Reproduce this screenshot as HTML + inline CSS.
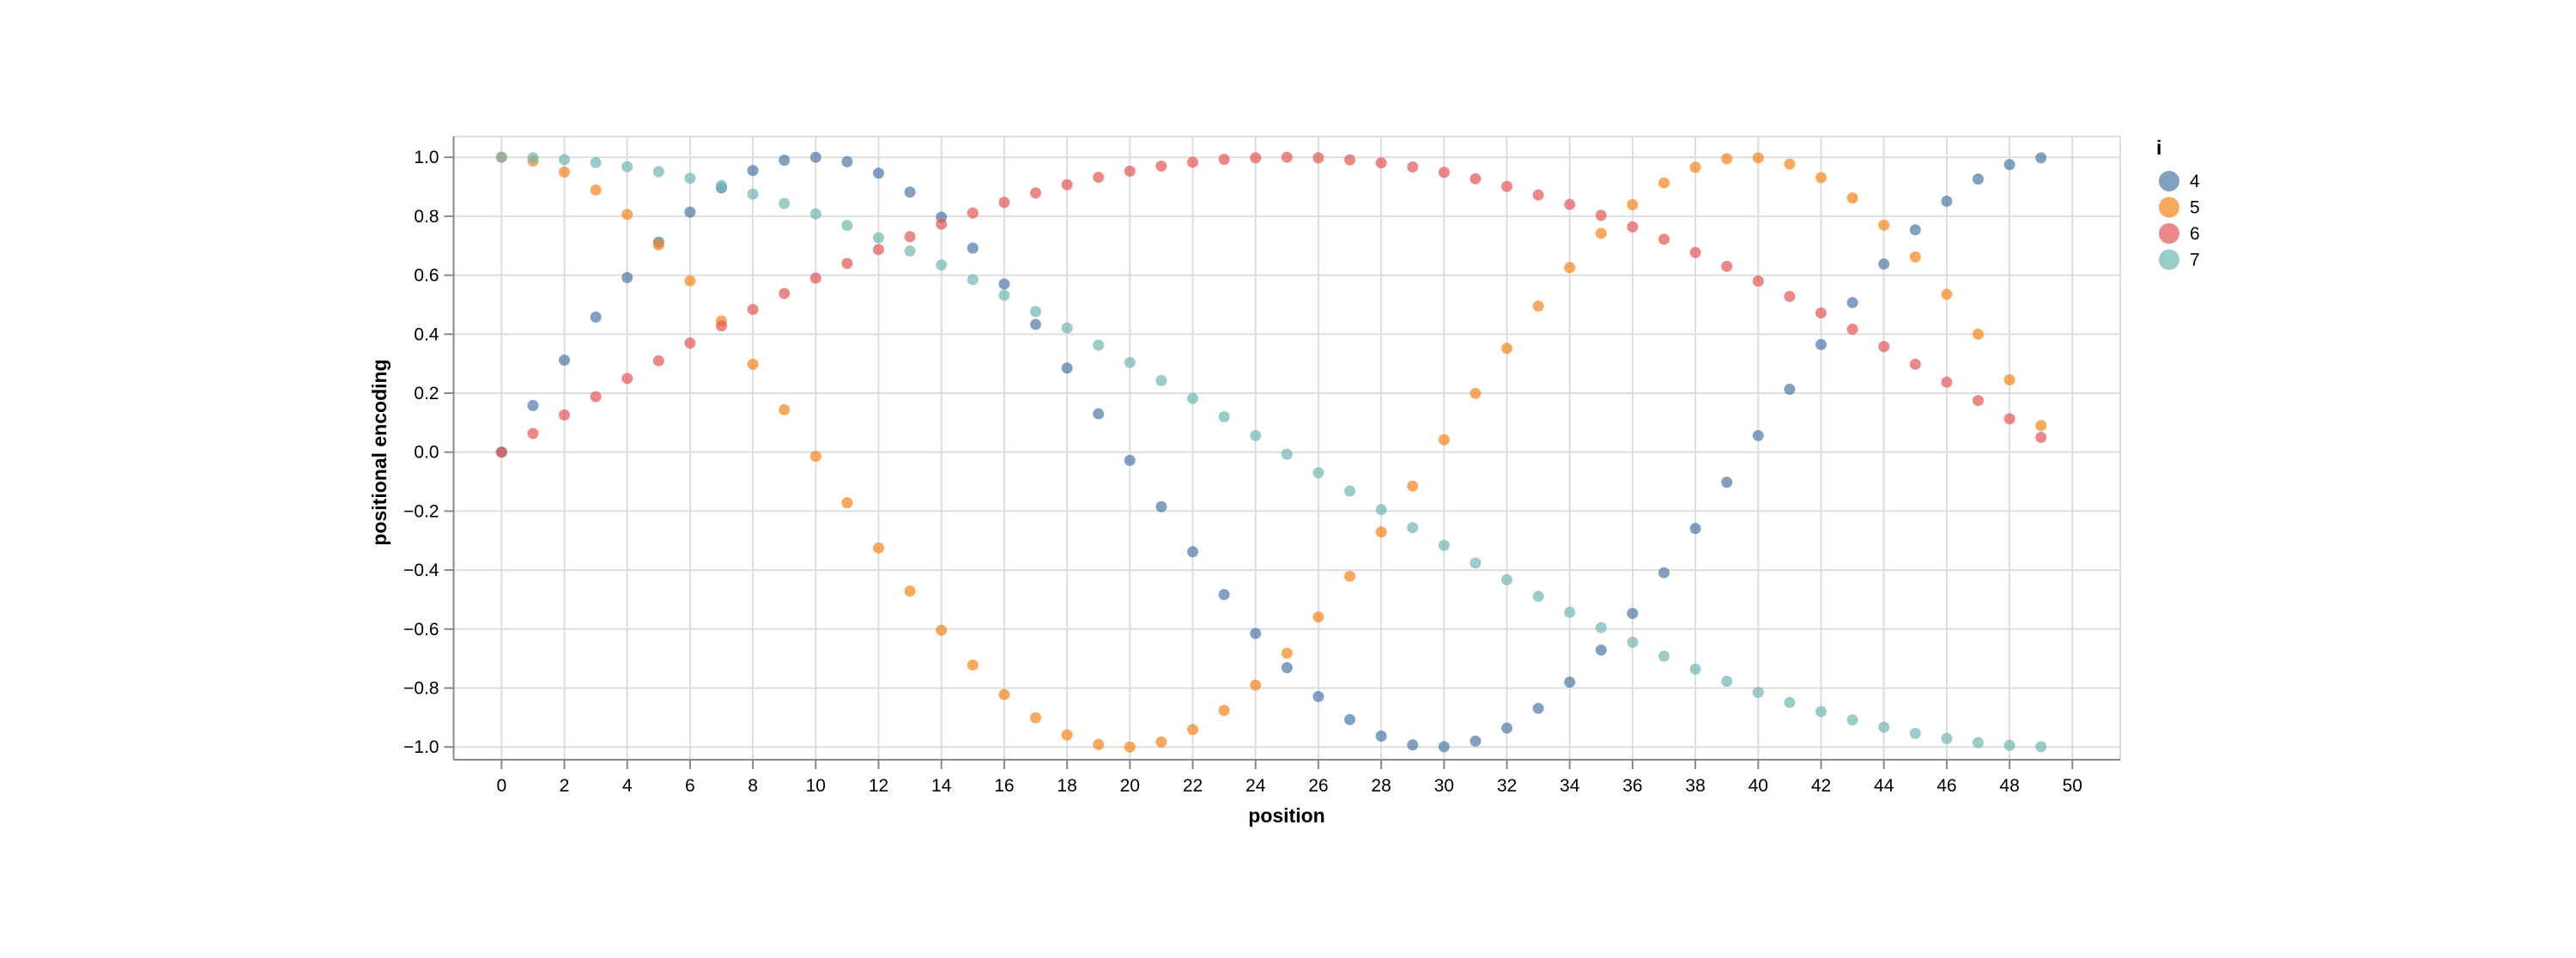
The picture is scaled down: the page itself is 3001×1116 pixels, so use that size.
<!DOCTYPE html>
<html><head><meta charset="utf-8"><style>
html,body{margin:0;padding:0;background:#fff;}
svg{display:block;font-family:"Liberation Sans",Arial,sans-serif;}
</style></head><body>
<svg id="chart" width="3001" height="1116" xmlns="http://www.w3.org/2000/svg">
<rect width="3001" height="1116" fill="#fff"/>
<g id="grid"></g>
<g id="axes"></g>
<g id="marks"></g>
<text transform="translate(450,527) rotate(-90)" text-anchor="middle" font-size="23" font-weight="bold" fill="#000">positional encoding</text>
<text x="1499" y="958" text-anchor="middle" font-size="23" font-weight="bold" fill="#000">position</text>
<g id="legend"><text x="2512" y="180" font-size="23" font-weight="bold">i</text></g>
</svg>
<script>
const positions = Array.from({length:50},(_, k)=>k);
const seriesNames = ["4","5","6","7"];
const series4 = [0,0.158,0.312,0.458,0.592,0.712,0.814,0.896,0.955,0.990,1.000,0.985,0.946,0.882,0.797,0.692,0.570,0.433,0.285,0.130,-0.028,-0.185,-0.338,-0.483,-0.615,-0.731,-0.829,-0.907,-0.963,-0.993,-0.999,-0.980,-0.936,-0.869,-0.780,-0.671,-0.547,-0.409,-0.259,-0.102,0.056,0.213,0.365,0.507,0.638,0.754,0.851,0.926,0.975,0.998];
const series5 = [1,0.987,0.950,0.889,0.806,0.703,0.581,0.445,0.298,0.144,-0.014,-0.172,-0.325,-0.471,-0.604,-0.722,-0.822,-0.901,-0.959,-0.991,-1.000,-0.983,-0.941,-0.876,-0.790,-0.682,-0.559,-0.421,-0.271,-0.115,0.042,0.199,0.352,0.495,0.626,0.742,0.839,0.913,0.966,0.995,0.998,0.977,0.931,0.862,0.770,0.662,0.535,0.400,0.245,0.090];
const series6 = [0,0.063,0.126,0.188,0.250,0.310,0.370,0.428,0.484,0.538,0.590,0.640,0.687,0.731,0.773,0.811,0.847,0.879,0.907,0.932,0.953,0.970,0.983,0.993,0.998,1.000,0.998,0.991,0.981,0.967,0.949,0.927,0.901,0.872,0.840,0.803,0.764,0.722,0.677,0.630,0.580,0.528,0.472,0.417,0.358,0.298,0.237,0.175,0.113,0.050];
const series7 = [1,0.998,0.992,0.982,0.968,0.951,0.929,0.904,0.875,0.843,0.808,0.769,0.727,0.682,0.635,0.585,0.532,0.477,0.421,0.363,0.304,0.243,0.182,0.120,0.056,-0.007,-0.070,-0.132,-0.195,-0.256,-0.316,-0.376,-0.433,-0.489,-0.543,-0.595,-0.645,-0.692,-0.736,-0.777,-0.815,-0.849,-0.880,-0.908,-0.933,-0.954,-0.971,-0.985,-0.994,-0.999];
const xTicks = [0,2,4,6,8,10,12,14,16,18,20,22,24,26,28,30,32,34,36,38,40,42,44,46,48,50];
const yTicks = [-1.0,-0.8,-0.6,-0.4,-0.2,0.0,0.2,0.4,0.6,0.8,1.0];

const NS="http://www.w3.org/2000/svg";
const L=528.5,R=2470,T=159,B=885;
const xs=v=>584.3+(v)*(2414.3-584.3)/50;
const ys=v=>526.7-v*343.5;
const colors=["#4c78a8","#f58518","#e45756","#72b7b2"];
function mk(tag,attrs,parent){const e=document.createElementNS(NS,tag);for(const k in attrs)e.setAttribute(k,attrs[k]);parent.appendChild(e);return e;}
const grid=document.getElementById('grid'),axes=document.getElementById('axes'),marks=document.getElementById('marks'),legend=document.getElementById('legend');
xTicks.forEach(t=>{
  const g=mk('line',{x1:xs(t),x2:xs(t),y1:T,y2:B,stroke:'#ddd','stroke-width':2},grid);
  
  
  const tk=mk('line',{x1:xs(t),x2:xs(t),y1:B,y2:B+11,stroke:'#888','stroke-width':2},axes);
  
  
  const tl=mk('text',{x:xs(t),y:922,'text-anchor':'middle','font-size':21,fill:'#000'},axes);
  tl.textContent=t;
  
  
});
yTicks.forEach(t=>{
  const g=mk('line',{x1:L,x2:R,y1:ys(t),y2:ys(t),stroke:'#ddd','stroke-width':2},grid);
  
  
  const tk=mk('line',{x1:L-11,x2:L,y1:ys(t),y2:ys(t),stroke:'#888','stroke-width':2},axes);
  
  
  const tl=mk('text',{x:L-17,y:ys(t)+7,'text-anchor':'end','font-size':21,fill:'#000'},axes);
  tl.textContent=(t<0?'\u2212':'')+Math.abs(t).toFixed(1);
  
  
});
const f1=mk('line',{x1:R,x2:R,y1:T,y2:B,stroke:'#ddd','stroke-width':2},grid);


const f2=mk('line',{x1:L,x2:R,y1:T,y2:T,stroke:'#ddd','stroke-width':2},grid);


const ax=mk('line',{x1:L,x2:R,y1:B,y2:B,stroke:'#888','stroke-width':2},axes);


const ay=mk('line',{x1:L,x2:L,y1:T,y2:B,stroke:'#888','stroke-width':2},axes);


[series4,series5,series6,series7].forEach((s,si)=>{
  s.forEach((v,k)=>{
    const c=mk('circle',{cx:xs(positions[k]),cy:ys(v),r:6.5,fill:colors[si],'fill-opacity':0.7},marks);
    
    
  });
  const y=211+si*30.5;
  const ls=mk('circle',{cx:2527,cy:y,r:12,fill:colors[si],'fill-opacity':0.7},legend);
  
  
  const lt=mk('text',{x:2551,y:y+7,'font-size':21},legend);
  lt.textContent=seriesNames[si];
  
  
});
</script>
</body></html>
